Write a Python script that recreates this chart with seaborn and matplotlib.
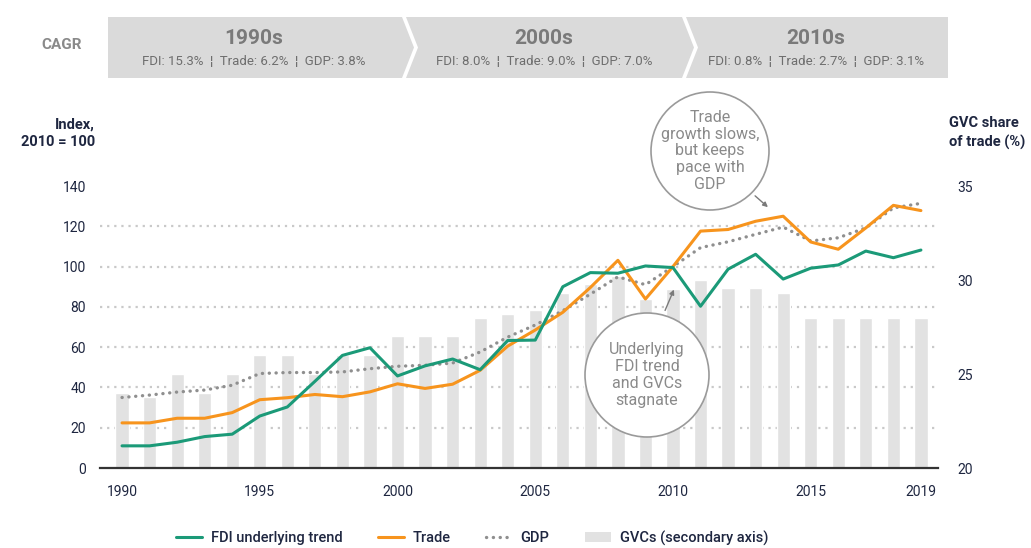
import numpy as np
import seaborn as sns
import matplotlib.pyplot as plt
from matplotlib.patches import Polygon, Ellipse, Patch, FancyArrowPatch
from matplotlib.lines import Line2D

# data
years = list(range(1990, 2020))
fdi = [11, 11, 12.8, 15.6, 16.8, 25.8, 30.3, 43, 55.9, 59.7,
       45.7, 50.7, 54.1, 48.8, 63.3, 63.5, 90, 97, 96.7, 100.3,
       99.5, 80.3, 98.7, 106.1, 93.8, 99.2, 100.8, 107.7, 104.4, 108.2]
trade = [22.4, 22.4, 24.7, 24.7, 27.5, 33.9, 34.9, 36.5, 35.4, 37.8,
         41.8, 39.5, 41.6, 48.5, 60.5, 68.5, 77.3, 89.6, 103.1, 83.9,
         100, 117.6, 118.4, 122.5, 125.0, 112.2, 108.6, 119.2, 130.4, 127.8]
gdp = [35.0, 36.2, 37.7, 38.7, 41.1, 46.9, 47.4, 47.4, 47.7, 49.3,
       50.5, 51.0, 52.1, 57.6, 65.0, 71.0, 78.1, 86.3, 94.9, 91.0,
       100, 109.4, 112.3, 116.0, 119.6, 112.7, 114.3, 119.2, 129.1, 131.4]
gvc = [24, 23.8, 25, 24, 25, 26, 26, 25, 26, 26,
       27, 27, 27, 28, 28.2, 28.4, 29.3, 29.8, 30.2, 29.0,
       29.5, 30.0, 29.6, 29.6, 29.3, 28.0, 28.0, 28.0, 28.0, 28.0]

left_ticks = [0, 20, 40, 60, 80, 100, 120, 140]
right_ticks = [20, 25, 30, 35]
x_ticks = [1990, 1995, 2000, 2005, 2010, 2015, 2019]

decades = ["1990s", "2000s", "2010s"]
cagr = ["FDI: 15.3%  ¦  Trade: 6.2%  ¦  GDP: 3.8%",
        "FDI: 8.0%  ¦  Trade: 9.0%  ¦  GDP: 7.0%",
        "FDI: 0.8%  ¦  Trade: 2.7%  ¦  GDP: 3.1%"]

GREEN = "#1b9a78"
ORANGE = "#f7941d"
GREY_DOT = "#8f8f8f"
BAR = "#e2e2e2"
DARK = "#1e2640"
SOFT = "#8a8a8a"
DOTS = (0, (0.05, 2.0))

sns.set_style("white")
plt.rcParams["font.family"] = ["Roboto", "DejaVu Sans"]

W, H = 1031, 548
fig = plt.figure(figsize=(W / 100, H / 100), dpi=100)


def fx(px):
    return px / W


def fy(py):
    return 1 - py / H


ax = fig.add_axes([fx(100), fy(468), fx(938) - fx(100), fy(186) - fy(468)])
ax2 = ax.twinx()
ax.set_zorder(ax2.get_zorder() + 1)
ax.patch.set_visible(False)

# GVC bars on the secondary axis
sns.barplot(x=years, y=gvc, native_scale=True, width=0.48, color=BAR,
            saturation=1, ax=ax2)
ax2.set_ylim(20, 35)
ax2.set_yticks(right_ticks)
ax2.set_yticks([20 + v * 15 / 140 for v in left_ticks], minor=True)
ax2.grid(which="minor", axis="y", color="#c9c9c9", linestyle=(0, (1, 2.2)), lw=1.6)
ax2.grid(which="major", visible=False)
ax2.tick_params(axis="y", which="both", length=0, labelsize=10,
                labelcolor=DARK, pad=14)

# lines
sns.lineplot(x=years, y=gdp, ax=ax, color=GREY_DOT, lw=2.4,
             linestyle=DOTS, dash_capstyle="round")
sns.lineplot(x=years, y=trade, ax=ax, color=ORANGE, lw=2.2)
sns.lineplot(x=years, y=fdi, ax=ax, color=GREEN, lw=2.2)

ax.set_xlim(1989.2, 2019.62)
ax.set_ylim(0, 140)
ax.set_yticks(left_ticks)
ax.set_xticks(x_ticks)
ax.set_xticklabels([str(t) for t in x_ticks])
ax.tick_params(axis="both", length=0, labelsize=10, labelcolor=DARK)
ax.tick_params(axis="y", pad=10)
ax.tick_params(axis="x", pad=12)
for a in (ax, ax2):
    for s in ["top", "right", "left", "bottom"]:
        a.spines[s].set_visible(False)
ax.spines["bottom"].set_visible(True)
ax.spines["bottom"].set_color("#333333")
ax.spines["bottom"].set_linewidth(1.6)
ax.set_xlabel("")
ax.set_ylabel("")
ax2.set_ylabel("")

# axis titles
fig.text(fx(95), fy(133), "Index,\n2010 = 100", ha="right", va="center",
         fontsize=10.5, fontweight="bold", color=DARK, linespacing=1.35)
fig.text(fx(949), fy(133), "GVC share\nof trade (%)", ha="left", va="center",
         fontsize=10.5, fontweight="bold", color=DARK, linespacing=1.35)

# CAGR banner
band_top, band_bot, band_mid = 17, 78, 47.5
panels = [
    [(108, band_top), (402, band_top), (414, band_mid), (402, band_bot), (108, band_bot)],
    [(406, band_top), (682, band_top), (694, band_mid), (682, band_bot), (406, band_bot), (418, band_mid)],
    [(686, band_top), (948, band_top), (948, band_bot), (686, band_bot), (698, band_mid)],
]
for pts in panels:
    fig.add_artist(Polygon([(fx(x), fy(y)) for x, y in pts], closed=True,
                           transform=fig.transFigure, facecolor="#dadada",
                           edgecolor="none"))
centers = [254, 544, 816]
for cx, dec, sub in zip(centers, decades, cagr):
    fig.text(fx(cx), fy(39), dec, ha="center", va="center", fontsize=15,
             fontweight="bold", color="#7a7a7a")
    fig.text(fx(cx), fy(61), sub, ha="center", va="center", fontsize=9.5,
             color="#6e6e6e")
fig.text(fx(62), fy(45), "CAGR", ha="center", va="center", fontsize=11,
         fontweight="bold", color="#8a8a8a")

# annotation bubbles
bubbles = [
    ((710, 151), 59, "Trade\ngrowth slows,\nbut keeps\npace with\nGDP",
     (753, 194), (770, 209)),
    ((647, 375), 62, "Underlying\nFDI trend\nand GVCs\nstagnate",
     (664, 313), (675, 287)),
]
for (cx, cy), r, txt, a0, a1 in bubbles:
    fig.add_artist(Ellipse((fx(cx), fy(cy)), 2 * r / W, 2 * r / H,
                           transform=fig.transFigure, facecolor="white",
                           edgecolor="#9a9a9a", lw=1.2, zorder=5))
    fig.text(fx(cx), fy(cy), txt, ha="center", va="center", fontsize=11.5,
             color=SOFT, linespacing=1.15, zorder=6)
    fig.add_artist(FancyArrowPatch(
        (fx(a0[0]), fy(a0[1])), (fx(a1[0]), fy(a1[1])),
        transform=fig.transFigure, arrowstyle="-|>", mutation_scale=7,
        color="#7a7a7a", lw=1, zorder=6))

# legend
handles = [
    Line2D([], [], color=GREEN, lw=2.2),
    Line2D([], [], color=ORANGE, lw=2.2),
    Line2D([], [], color=GREY_DOT, lw=2.4, linestyle=DOTS,
           dash_capstyle="round"),
    Patch(facecolor=BAR, edgecolor="none"),
]
labels = ["FDI underlying trend", "Trade", "GDP", "GVCs (secondary axis)"]
fig.legend(handles, labels, loc="center", bbox_to_anchor=(fx(472), fy(538)),
           ncol=4, frameon=False, fontsize=10.5, handlelength=1.8,
           handletextpad=0.6, columnspacing=2.4, labelcolor=DARK,
           prop={"weight": "medium", "size": 10.5})

fig.savefig("out.png", dpi=100)
